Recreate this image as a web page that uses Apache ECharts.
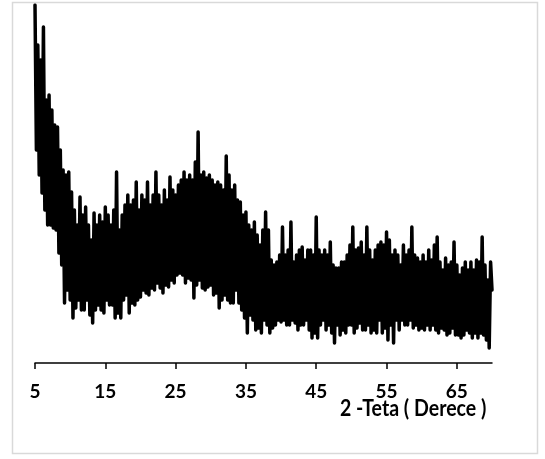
<!DOCTYPE html>
<html>
<head>
<meta charset="utf-8">
<script src="https://cdn.jsdelivr.net/npm/echarts@6/dist/echarts.min.js"></script>
<style>
html,body{margin:0;padding:0;background:#fff;}
#c{width:545px;height:459px;}
</style>
</head>
<body>
<div id="c"></div>
<script>
// 2-theta start and step (degrees)
const thetaStart = 5;
const thetaStep = 0.2;
// Intensity (arbitrary units), one row per degree: values at .0 .2 .4 .6 .8
const intensity = [
  358,213,318,188,303,   // 5
  170,336,153,263,138,   // 6
  268,138,253,135,238,   // 7
  133,236,110,213,98,    // 8
  193,60,188,73,191,     // 9
  63,171,45,153,55,      // 10
  138,63,166,53,148,     // 11
  53,156,63,138,48,      // 12
  123,40,150,53,138,     // 13
  58,148,53,141,50,      // 14
  156,63,148,58,138,     // 15
  58,153,45,191,50,      // 16
  133,45,148,63,158,     // 17
  68,168,50,158,60,      // 18
  163,58,181,63,153,     // 19
  66,168,73,163,70,      // 20
  181,68,158,75,168,     // 21
  73,191,80,168,75,      // 22
  158,70,173,78,163,     // 23
  76,186,83,173,80,      // 24
  168,88,178,90,183,     // 25
  88,191,80,183,85,      // 26
  188,83,183,65,201,     // 27
  78,231,83,188,75,      // 28
  191,73,185,76,188,     // 29
  78,183,68,178,70,      // 30
  181,55,178,63,173,     // 31
  68,207,63,188,60,      // 32
  173,60,178,73,163,     // 33
  60,161,53,148,45,      // 34
  151,30,138,48,133,     // 35
  43,141,33,128,35,      // 36
  118,30,133,43,151,     // 37
  38,133,30,103,35,      // 38
  98,38,101,43,108,      // 39
  41,136,43,108,38,      // 40
  113,38,141,43,101,     // 41
  40,108,33,113,38,      // 42
  116,38,103,43,113,     // 43
  33,113,25,108,30,      // 44
  146,25,113,38,108,     // 45
  43,113,33,108,38,      // 46
  121,30,98,20,95,       // 47
  38,95,28,101,33,       // 48
  101,30,108,38,118,     // 49
  38,136,30,113,35,      // 50
  115,40,121,33,108,     // 51
  33,136,38,113,30,      // 52
  103,33,113,30,118,     // 53
  43,121,30,118,35,      // 54
  131,23,123,38,108,     // 55
  20,113,43,108,33,      // 56
  98,43,118,38,108,      // 57
  38,113,43,136,35,      // 58
  108,38,105,33,101,     // 59
  35,108,33,101,38,      // 60
  113,33,103,38,118,     // 61
  33,126,30,101,35,      // 62
  93,33,105,28,98,       // 63
  30,101,35,121,28,      // 64
  98,28,88,25,95,        // 65
  28,101,33,93,30,       // 66
  101,25,93,30,103,      // 67
  25,101,30,126,28,      // 68
  98,23,83,15,101,       // 69
  73                     // 70
];
const tickLabels = [5, 15, 25, 35, 45, 55, 65];
const xAxisTitle = '2 -Teta ( Derece )';

const points = intensity.map((v, i) => [+(thetaStart + i * thetaStep).toFixed(2), v]);

const chart = echarts.init(document.getElementById('c'), null, {renderer: 'canvas'});
const fontFam = 'Lato, "Open Sans", sans-serif';
chart.setOption({
  animation: false,
  backgroundColor: '#ffffff',
  grid: {left: 35, right: 53, top: 5, bottom: 96, containLabel: false},
  xAxis: {
    type: 'value',
    min: 5,
    max: 70,
    splitLine: {show: false},
    axisLine: {show: true, lineStyle: {color: '#000', width: 1.5}},
    axisTick: {show: true, customValues: tickLabels, length: 6, inside: false, lineStyle: {color: '#000', width: 1.5}},
    axisLabel: {show: true, customValues: tickLabels, margin: 19, color: '#000', fontFamily: fontFam, fontWeight: 'bold', fontSize: 19}
  },
  yAxis: {
    type: 'value',
    min: 0,
    max: 358,
    show: false
  },
  graphic: [
    {type: 'rect', shape: {x: 12.5, y: 2.5, width: 525, height: 451}, style: {fill: 'none', stroke: '#d9d9d9', lineWidth: 1.5}, z: -1},
    {type: 'text', x: 340, y: 397, scaleX: 0.85, style: {text: xAxisTitle, fill: '#000', font: 'bold 23px Lato, "Open Sans", sans-serif'}}
  ],
  series: [{
    type: 'line',
    data: points,
    showSymbol: false,
    symbol: 'none',
    lineStyle: {color: '#000', width: 3.5, join: 'round', cap: 'round'},
    silent: true
  }]
});
</script>
</body>
</html>
